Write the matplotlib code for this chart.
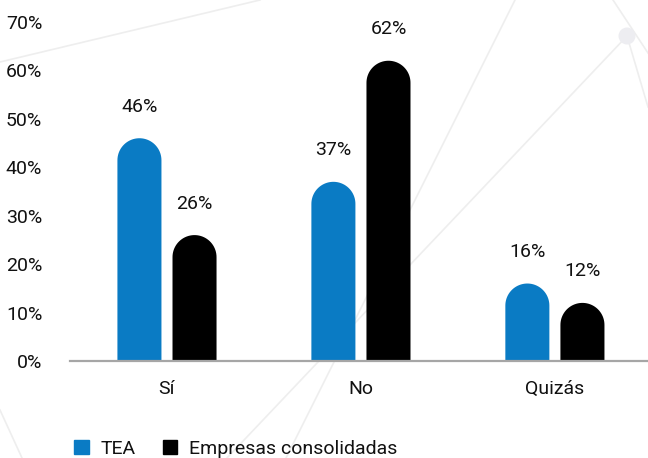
import matplotlib
matplotlib.use('Agg')
import numpy as np
import matplotlib.pyplot as plt
from matplotlib.patches import Ellipse, Patch, PathPatch
from matplotlib.path import Path
from matplotlib.lines import Line2D

# Data
categories = ['Sí', 'No', 'Quizás']
tea = [46, 37, 16]
consolidadas = [26, 62, 12]
series_names = ['TEA', 'Empresas consolidadas']
y_ticks = [0, 10, 20, 30, 40, 50, 60, 70]

blue = '#0A7BC4'
black = '#000000'

plt.rcParams['font.family'] = ['Roboto', 'DejaVu Sans']

W, H = 648, 458
fig = plt.figure(figsize=(W / 100, H / 100), dpi=100)
fig.patch.set_facecolor('white')

# faint decorative network lines in the background (pixel coords)
def bg_line(x0, y0, x1, y1):
    fig.add_artist(Line2D([x0 / W, x1 / W], [1 - y0 / H, 1 - y1 / H],
                          color='#eeeeee', lw=1.2, zorder=0))

bg_line(0, 62, 260, 0)
bg_line(515, 0, 286, 458)
bg_line(627, 36, 227, 458)
bg_line(627, 36, 648, 107)
bg_line(613, 0, 648, 53)
bg_line(0, 410, 22, 458)
fig.add_artist(Ellipse((627 / W, 1 - 36 / H), 17 / W, 17 / H, color='#ededf1',
                       lw=0, transform=fig.transFigure, zorder=0))

ax = fig.add_axes([70 / W, 1 - 361 / H, 1 - 70 / W, (361 - 22) / H])
ax.set_facecolor('none')
ax.set_xlim(-0.5, 2.48)
ax.set_ylim(0, 70)

# bar geometry: rounded top radius = half bar width (in pixels)
w = 0.227
off = 0.142
px_x = ax.get_position().width * W / (2.48 + 0.5)
px_y = ax.get_position().height * H / 70
ry = (w / 2) * px_x / px_y


def rounded_bar(x, v, color):
    t = np.linspace(0, np.pi, 40)
    xs = np.concatenate([[x + w / 2], x + w / 2 * np.cos(t), [x - w / 2]])
    ys = np.concatenate([[0], v - ry + ry * np.sin(t), [0]])
    verts = np.column_stack([xs, ys])
    ax.add_patch(PathPatch(Path(verts, closed=False), facecolor=color, lw=0, zorder=2))


for i, cat in enumerate(categories):
    for vals, color, sgn in [(tea, blue, -1), (consolidadas, black, 1)]:
        x = i + sgn * off
        v = vals[i]
        rounded_bar(x, v, color)
        ax.annotate(f'{v}%', (x, v), xytext=(0, 19), textcoords='offset points',
                    ha='center', va='baseline', fontsize=14, color='#111111')

ax.set_xticks(range(len(categories)))
ax.set_xticklabels(categories)
ax.set_yticks(y_ticks)
ax.set_yticklabels([f'{t}%' for t in y_ticks])
ax.tick_params(axis='x', length=0, pad=14, labelsize=14, labelcolor='#111111')
ax.tick_params(axis='y', length=0, pad=20, labelsize=14, labelcolor='#111111')

for s in ['top', 'right', 'left']:
    ax.spines[s].set_visible(False)
ax.spines['bottom'].set_color('#a6a6a6')
ax.spines['bottom'].set_linewidth(1.6)
ax.spines['bottom'].set_zorder(3)

handles = [Patch(color=blue, label=series_names[0]),
           Patch(color=black, label=series_names[1])]
fig.legend(handles=handles, loc='center left', bbox_to_anchor=(74 / W, 1 - 449 / H),
           ncol=2, frameon=False, fontsize=14, handlelength=0.75, handleheight=0.75,
           handletextpad=0.6, columnspacing=1.4, borderaxespad=0, borderpad=0,
           labelcolor='#111111')

fig.savefig('out.png', dpi=100)
